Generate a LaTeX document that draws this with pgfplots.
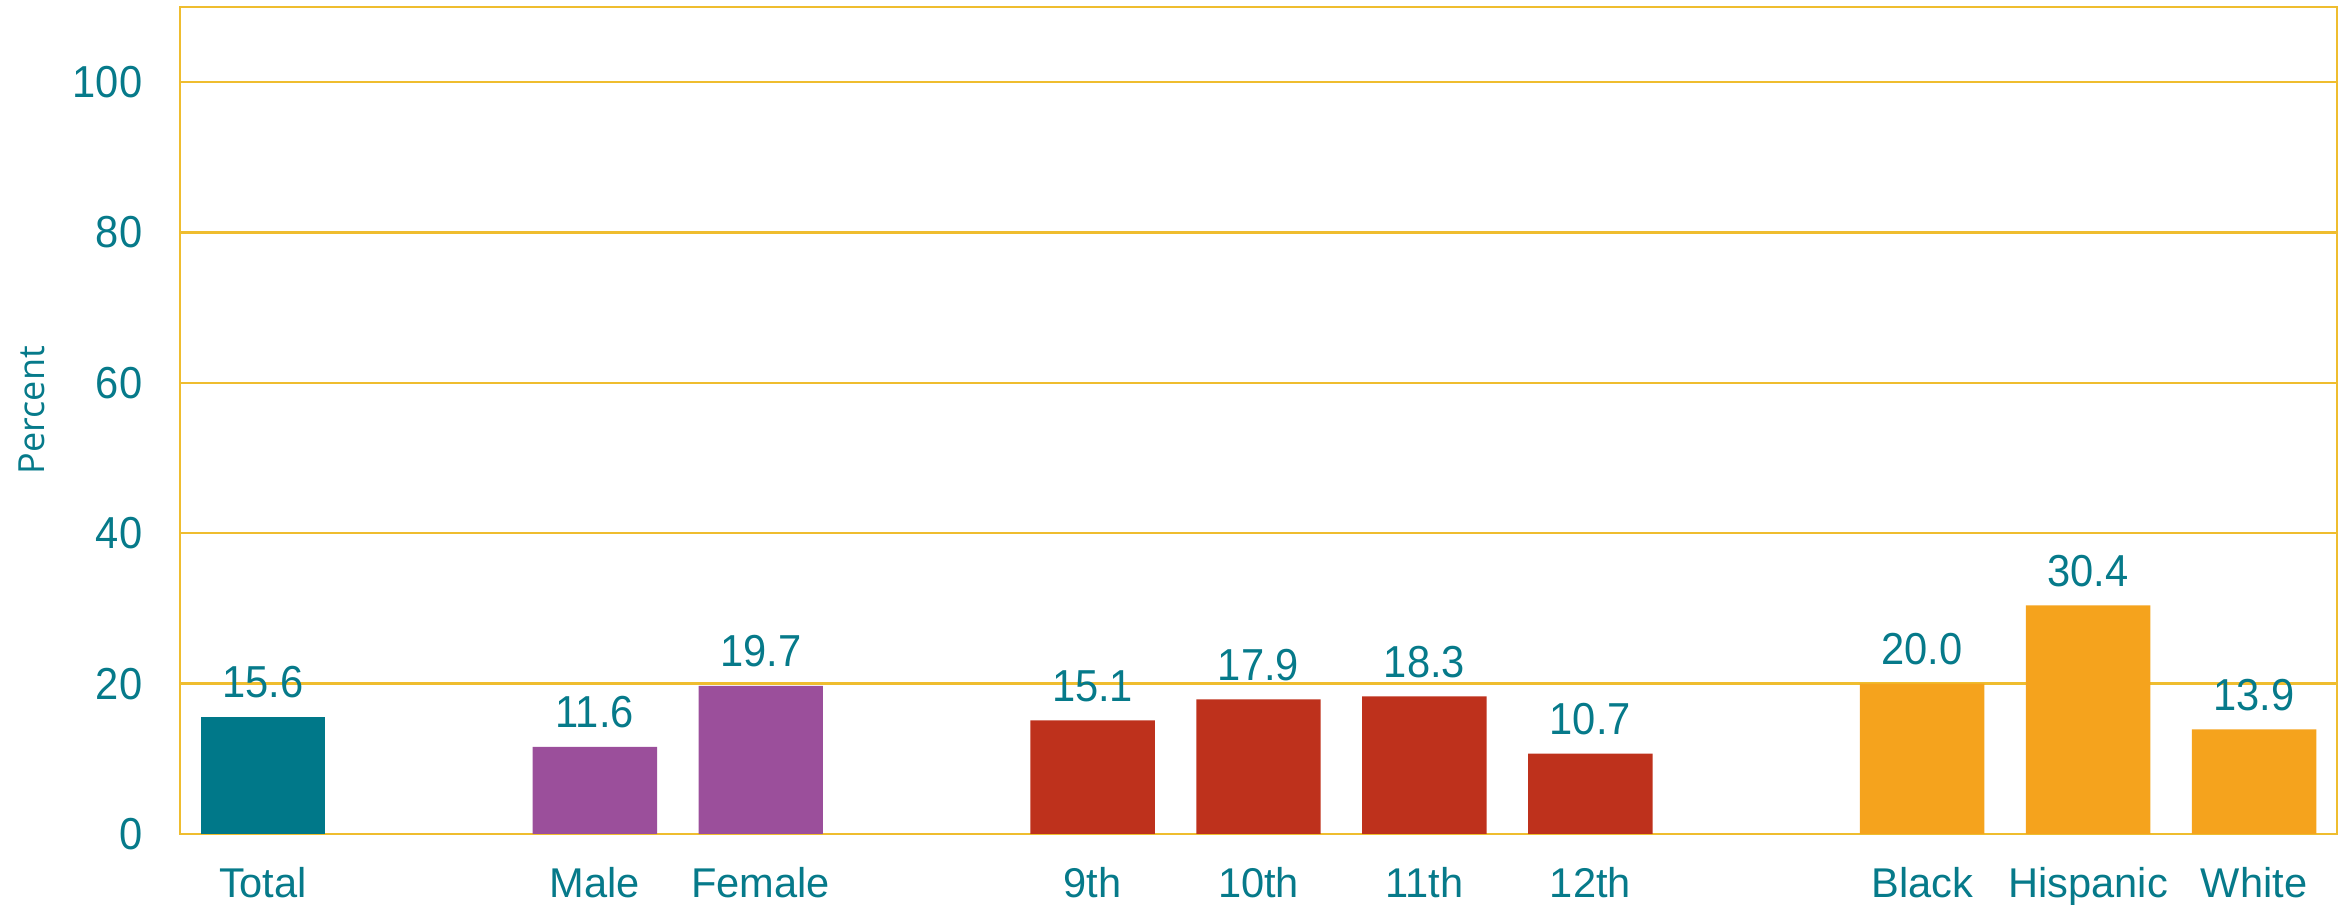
\documentclass[border=0pt]{standalone}
\usepackage{fontspec}
\setmainfont{Liberation Sans}[FakeStretch=0.93]
\newfontfamily\catfont{Liberation Sans}
\newfontfamily\labelfont{Open Sans}
\usepackage{pgfplots}
\pgfplotsset{compat=1.18}

\definecolor{ctext}{HTML}{067A8A}
\definecolor{cgold}{HTML}{EFBD2F}
\definecolor{ctotal}{HTML}{007889}
\definecolor{csex}{HTML}{9B4F9B}
\definecolor{cgrade}{HTML}{BE311C}
\definecolor{crace}{HTML}{F5A31D}

\begin{document}
\begin{tikzpicture}
\useasboundingbox (0,0) rectangle (587.25bp,226.25bp);
\begin{axis}[
    at={(45bp,17.75bp)}, anchor=south west,
    scale only axis,
    width=539.25bp, height=206.75bp,
    xmin=-0.5, xmax=12.5,
    ymin=0, ymax=110,
    ytick={0,20,...,100},
    xtick={0,2,3,5,6,7,8,10,11,12},
    xticklabels={Total,Male,Female,9th,10th,11th,12th,Black,Hispanic,White},
    ymajorgrids,
    grid style={cgold, line width=0.6bp},
    axis line style={cgold, line width=0.6bp},
    major tick length=0pt,
    /pgf/number format/assume math mode=true,
    tick label style={text=ctext, font=\fontsize{11.2bp}{12bp}\selectfont},
    yticklabel style={inner sep=0pt, xshift=-9.25bp},
    xticklabel style={anchor=base, inner sep=0pt, yshift=-15.9bp,
        font=\catfont\fontsize{10.4bp}{12bp}\selectfont},
    ylabel={Percent},
    every axis y label/.style={at={(axis description cs:-0.0686,0.5126)}, rotate=90,
        anchor=center, text=ctext,
        font=\labelfont\fontsize{9bp}{10bp}\selectfont},
    ybar, bar width=0.75, bar shift=0pt,
    nodes near coords={\pgfmathprintnumber[fixed,fixed zerofill,precision=1]{\pgfplotspointmeta}},
    nodes near coords style={anchor=base, inner sep=0pt, yshift=4.75bp,
        text=ctext, font=\fontsize{11.2bp}{12bp}\selectfont},
]
% Total
\addplot[fill=ctotal, draw=none] coordinates {(0,15.6)};
% Sex
\addplot[fill=csex, draw=none] coordinates {(2,11.6) (3,19.7)};
% Grade
\addplot[fill=cgrade, draw=none] coordinates {(5,15.1) (6,17.9) (7,18.3) (8,10.7)};
% Race/ethnicity
\addplot[fill=crace, draw=none] coordinates {(10,20.0) (11,30.4) (12,13.9)};
\end{axis}
\end{tikzpicture}
\end{document}
